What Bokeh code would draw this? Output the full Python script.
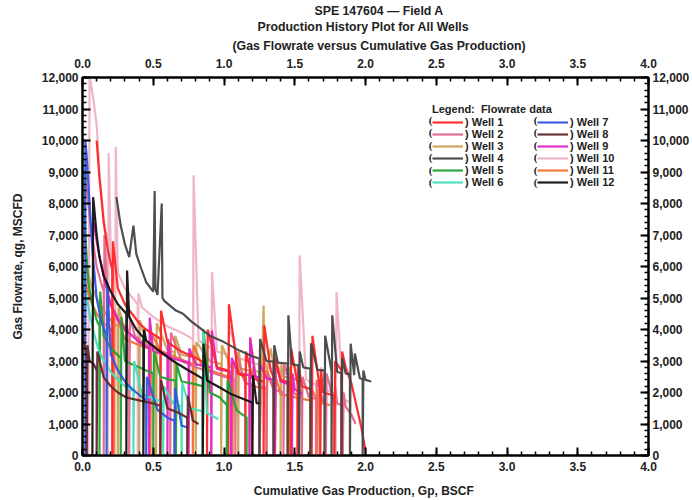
from bokeh.plotting import figure
from bokeh.models import (Range1d, LinearAxis, SingleIntervalTicker, NumeralTickFormatter, Title,
                          Legend, LegendItem, LabelSet, ColumnDataSource)
from bokeh.embed import file_html
from bokeh.resources import INLINE

FONT = "Liberation Sans"

well_names = ["Well 1", "Well 2", "Well 3", "Well 4", "Well 5", "Well 6",
              "Well 7", "Well 8", "Well 9", "Well 10", "Well 11", "Well 12"]
well_colors = ["#ff2424", "#e0668a", "#c9a257", "#444444", "#22a033", "#44dfbb",
               "#3355e0", "#62282a", "#e022c4", "#efb2c4", "#f07232", "#111111"]

# (cumulative gas BSCF, gas flowrate MSCFD) pairs
well1 = [(0.10, 10000), (0.12, 8800), (0.15, 7400), (0.18, 6500), (0.21, 5900), (0.21, 0), (0.215, 6800), (0.25, 5300),
         (0.30, 4800), (0.35, 4500), (0.40, 4200), (0.45, 4000), (0.55, 3700), (0.55, 0), (0.555, 4600), (0.60, 3600),
         (0.70, 3300), (0.80, 3100), (0.88, 2900), (0.88, 0), (0.885, 4000), (0.95, 2800), (1.03, 2700), (1.03, 0),
         (1.035, 4800), (1.10, 2600), (1.15, 2520), (1.15, 0), (1.155, 3300), (1.20, 2450), (1.28, 2350), (1.28, 0),
         (1.285, 4130), (1.33, 2700), (1.35, 2500), (1.35, 0), (1.355, 3100), (1.40, 2400), (1.47, 2300), (1.47, 0),
         (1.475, 3400), (1.52, 2250), (1.52, 0), (1.525, 2900), (1.55, 2200), (1.62, 2100), (1.62, 0), (1.625, 3800),
         (1.68, 2050), (1.68, 0), (1.685, 2700), (1.70, 2000), (1.78, 1900), (1.78, 0), (1.785, 3000), (1.83, 2700),
         (1.83, 0), (1.835, 3300), (1.86, 2800), (1.90, 2300), (1.94, 1500), (1.97, 900), (2.00, 160)]
well2 = [(0.02, 9000), (0.04, 8000), (0.06, 7200), (0.08, 6600), (0.10, 6000), (0.13, 5500), (0.15, 5200), (0.15, 0),
         (0.155, 7000), (0.18, 4900), (0.22, 4600), (0.26, 4300), (0.30, 4100), (0.33, 3950), (0.33, 0), (0.335, 4400),
         (0.37, 3800), (0.42, 3600), (0.50, 3400), (0.60, 3200), (0.62, 3150), (0.62, 0), (0.625, 3900), (0.70, 3000),
         (0.80, 2800), (0.90, 2650), (1.00, 2500), (1.08, 2400), (1.08, 0), (1.085, 3300), (1.15, 2300), (1.20, 2250),
         (1.20, 0), (1.205, 2800), (1.25, 2200), (1.30, 2150), (1.30, 0), (1.305, 2600), (1.35, 2100), (1.42, 2000),
         (1.42, 0), (1.425, 2900), (1.50, 1950), (1.55, 1900), (1.55, 0), (1.555, 2500), (1.60, 1850), (1.65, 1800),
         (1.65, 0), (1.655, 2400), (1.70, 1750), (1.72, 1700), (1.72, 0), (1.725, 2600), (1.78, 1650), (1.78, 0),
         (1.785, 2200), (1.80, 1650), (1.84, 1580), (1.84, 0), (1.845, 2000), (1.86, 1550), (1.90, 1300), (1.93, 1000)]
well3 = [(0.00, 7000), (0.03, 6000), (0.06, 5400), (0.10, 5000), (0.15, 4600), (0.20, 4300), (0.25, 4100), (0.25, 0),
         (0.255, 4700), (0.30, 3950), (0.38, 3750), (0.40, 3700), (0.40, 0), (0.405, 4300), (0.45, 3600), (0.52, 3450),
         (0.52, 0), (0.525, 4200), (0.60, 3350), (0.65, 3280), (0.65, 0), (0.655, 3800), (0.70, 3200), (0.80, 3100),
         (0.80, 0), (0.805, 3600), (0.90, 3000), (0.98, 2900), (0.98, 0), (0.985, 3500), (1.05, 2800), (1.10, 2780),
         (1.10, 0), (1.105, 3300), (1.12, 2750), (1.18, 2700), (1.18, 0), (1.185, 3700), (1.22, 2680), (1.25, 2650),
         (1.25, 0), (1.28, 4760), (1.285, 2700), (1.30, 2620), (1.33, 3400), (1.36, 2600), (1.36, 0), (1.365, 3100),
         (1.40, 2550), (1.40, 0), (1.405, 2900), (1.42, 2500), (1.46, 2480), (1.46, 0), (1.465, 2800), (1.48, 2450),
         (1.52, 2400), (1.55, 2350), (1.55, 0)]
well4 = [(0.24, 8200), (0.27, 7300), (0.30, 6700), (0.33, 6300), (0.36, 7300), (0.38, 6400), (0.41, 6000), (0.45, 5500),
         (0.50, 5200), (0.51, 8400), (0.515, 5300), (0.53, 5100), (0.56, 8000), (0.565, 5000), (0.58, 4900),
         (0.62, 4750), (0.66, 4600), (0.71, 4500), (0.77, 4250), (0.83, 4050), (0.90, 3800), (1.00, 3600), (1.11, 3330),
         (1.20, 3150), (1.25, 3080), (1.25, 0), (1.255, 3700), (1.30, 3000), (1.35, 2980), (1.35, 0), (1.355, 3500),
         (1.38, 2950), (1.45, 2920), (1.45, 0), (1.455, 4450), (1.48, 2900), (1.53, 2850), (1.53, 0), (1.535, 3300),
         (1.56, 2800), (1.61, 2760), (1.61, 0), (1.615, 3560), (1.66, 2720), (1.71, 2700), (1.71, 0), (1.715, 3800),
         (1.76, 2680), (1.76, 0), (1.765, 4450), (1.80, 2650), (1.83, 2620), (1.83, 0), (1.835, 3100), (1.86, 2600),
         (1.89, 2580), (1.89, 0), (1.895, 3550), (1.92, 2550), (1.925, 3240), (1.96, 2450), (1.98, 2420), (1.98, 0),
         (1.985, 2700), (2.00, 2400), (2.04, 2350)]
well5 = [(0.00, 10000), (0.01, 8500), (0.02, 7000), (0.04, 5500), (0.07, 4800), (0.10, 4300), (0.12, 4100), (0.12, 0),
         (0.125, 5200), (0.15, 3800), (0.20, 3400), (0.27, 3100), (0.27, 0), (0.275, 4400), (0.30, 3000), (0.35, 2900),
         (0.40, 2800), (0.45, 2700), (0.50, 2600), (0.50, 0), (0.505, 3300), (0.55, 2500), (0.62, 2400), (0.66, 2380),
         (0.66, 0), (0.665, 2900), (0.70, 2350), (0.78, 2280), (0.85, 2200), (0.85, 0), (0.855, 4000), (0.90, 2000),
         (0.97, 1840), (1.02, 1600), (1.02, 0), (1.025, 2400), (1.09, 1430), (1.13, 1300), (1.16, 1210), (1.16, 0)]
well6 = [(0.00, 6000), (0.02, 5200), (0.05, 4500), (0.08, 3900), (0.11, 3400), (0.15, 3000), (0.20, 2650), (0.25, 2400),
         (0.30, 2200), (0.36, 2050), (0.36, 0), (0.365, 3000), (0.42, 1950), (0.50, 1800), (0.57, 1700), (0.57, 0),
         (0.575, 2200), (0.64, 1650), (0.70, 1560), (0.70, 0), (0.705, 2300), (0.76, 1500), (0.85, 1400), (0.85, 0),
         (0.855, 3970), (0.88, 1350), (0.92, 1250), (0.96, 1150)]
well7 = [(0.02, 0), (0.02, 10000), (0.03, 9500), (0.05, 8000), (0.07, 6500), (0.10, 5000), (0.13, 4300), (0.17, 3800),
         (0.17, 0), (0.175, 5500), (0.20, 3200), (0.25, 2700), (0.31, 2280), (0.38, 2000), (0.45, 1750), (0.45, 0),
         (0.455, 2500), (0.53, 1450), (0.60, 1200), (0.65, 1100), (0.65, 0), (0.655, 2150), (0.70, 950), (0.75, 880)]
well8 = [(0.00, 4000), (0.01, 3600), (0.03, 3200), (0.03, 0), (0.035, 3500), (0.05, 3000), (0.08, 2900), (0.10, 2700),
         (0.10, 0), (0.105, 3300), (0.15, 2480), (0.20, 2200), (0.25, 2000), (0.31, 1840), (0.40, 1750), (0.50, 1650),
         (0.55, 1580), (0.55, 0), (0.555, 2400), (0.60, 1500), (0.69, 1330), (0.74, 1200), (0.74, 0), (0.745, 1900),
         (0.78, 1110), (0.82, 1000)]
well9 = [(0.08, 7400), (0.10, 6800), (0.13, 6100), (0.16, 5500), (0.20, 4800), (0.25, 4300), (0.30, 4000), (0.35, 3800),
         (0.40, 3600), (0.47, 3400), (0.47, 0), (0.475, 4380), (0.50, 3300), (0.55, 3250), (0.60, 3150), (0.60, 0),
         (0.605, 3700), (0.62, 3110), (0.70, 3000), (0.75, 2950), (0.75, 0), (0.755, 3400), (0.80, 2900), (0.91, 2800),
         (0.91, 0), (0.915, 3970), (0.95, 2750), (1.00, 2700), (1.05, 2650), (1.05, 0), (1.055, 3100), (1.10, 2600),
         (1.18, 2550), (1.18, 0), (1.185, 3750), (1.22, 2500), (1.25, 2480), (1.25, 0), (1.255, 2900), (1.30, 2450),
         (1.36, 2400), (1.36, 0), (1.365, 3020), (1.40, 2350), (1.44, 2290), (1.48, 2200), (1.48, 0), (1.485, 2600),
         (1.50, 2100), (1.55, 1970)]
well10 = [(0.04, 0), (0.05, 12000), (0.06, 11800), (0.08, 11200), (0.10, 10500), (0.12, 9000), (0.15, 7500),
          (0.18, 6600), (0.18, 0), (0.185, 9600), (0.20, 6400), (0.23, 6000), (0.23, 0), (0.235, 9800), (0.25, 5800),
          (0.30, 5300), (0.39, 4800), (0.39, 0), (0.395, 5140), (0.42, 4700), (0.50, 4400), (0.60, 4100), (0.70, 3900),
          (0.78, 3700), (0.78, 0), (0.785, 8900), (0.82, 3650), (0.91, 3400), (0.91, 0), (0.915, 5820), (0.95, 3300),
          (1.03, 3200), (1.03, 0), (1.035, 4130), (1.10, 3100), (1.20, 2950), (1.25, 2880), (1.25, 0), (1.255, 3500),
          (1.30, 2800), (1.40, 2650), (1.45, 2580), (1.45, 0), (1.455, 3300), (1.53, 2500), (1.53, 0), (1.535, 6350),
          (1.58, 2400), (1.65, 2250), (1.68, 2180), (1.68, 0), (1.685, 2800), (1.72, 2100), (1.79, 1950), (1.79, 0),
          (1.795, 5190), (1.84, 1800), (1.88, 1700)]
well11 = [(0.00, 6000), (0.02, 5500), (0.05, 5000), (0.10, 4500), (0.15, 4200), (0.20, 4000), (0.22, 3900), (0.22, 0),
          (0.225, 4600), (0.30, 3700), (0.40, 3500), (0.48, 3380), (0.48, 0), (0.485, 3900), (0.55, 3330), (0.62, 3200),
          (0.70, 3050), (0.78, 2900), (0.78, 0), (0.785, 3500), (0.85, 2800), (0.92, 2680), (1.00, 2550), (1.06, 2450),
          (1.06, 0), (1.065, 3000), (1.16, 2280), (1.25, 2150), (1.30, 2100), (1.30, 0), (1.305, 2700), (1.36, 2020),
          (1.36, 0), (1.365, 2500), (1.40, 1950), (1.45, 1900), (1.45, 0), (1.455, 2400), (1.48, 1870), (1.52, 1830),
          (1.52, 0), (1.525, 2300), (1.55, 1800), (1.61, 1750), (1.61, 0), (1.615, 2170), (1.66, 1700), (1.66, 0),
          (1.665, 2100), (1.70, 1650), (1.75, 1600)]
well12 = [(0.07, 0), (0.075, 8200), (0.08, 8000), (0.10, 7000), (0.12, 6300), (0.15, 5700), (0.20, 5200), (0.25, 4800),
          (0.31, 4500), (0.31, 0), (0.315, 5870), (0.33, 4400), (0.38, 4000), (0.43, 3750), (0.43, 0), (0.435, 4000),
          (0.45, 3650), (0.55, 3300), (0.64, 3000), (0.75, 2700), (0.85, 2440), (0.85, 0), (0.855, 3550), (0.88, 2380),
          (0.97, 2160), (1.05, 1950), (1.11, 1840), (1.20, 1680), (1.20, 0), (1.205, 2540), (1.23, 1660), (1.25, 1650)]

wells = [well1, well2, well3, well4, well5, well6, well7, well8, well9, well10, well11, well12]

title_lines = ["SPE 147604 \u2014 Field A", "Production History Plot for All Wells",
               "(Gas Flowrate versus Cumulative Gas Production)"]
title_offsets = [232, 175, 150]   # px from the frame's left edge
title_standoffs = [0, 0, 6]

W, H = 692, 500
ML, MR, MT, MB = 82, 41, 77, 45

p = figure(width=W, height=H, x_range=Range1d(0, 4), y_range=Range1d(0, 12000),
           output_backend="svg", toolbar_location=None, title=None,
           min_border_left=ML, min_border_right=MR, min_border_top=MT, min_border_bottom=MB)
p.grid.visible = False
p.outline_line_color = "black"
p.outline_line_width = 2

xt = SingleIntervalTicker(interval=0.5, num_minor_ticks=5)
yt = SingleIntervalTicker(interval=1000, num_minor_ticks=5)
xf = NumeralTickFormatter(format="0.0")
yf = NumeralTickFormatter(format="0,0")


def style(ax, tick_standoff=4, label_standoff=0):
    ax.major_tick_in = 8
    ax.major_tick_out = 0
    ax.minor_tick_in = 4
    ax.minor_tick_out = 0
    ax.major_tick_line_width = 2
    ax.minor_tick_line_width = 1.5
    ax.axis_line_width = 2
    ax.major_label_text_font = FONT
    ax.major_label_text_font_style = "bold"
    ax.major_label_text_font_size = "12px"
    ax.major_label_text_color = "#222222"
    ax.major_label_standoff = tick_standoff
    ax.axis_label_text_font = FONT
    ax.axis_label_text_font_style = "bold"
    ax.axis_label_text_font_size = "12px"
    ax.axis_label_text_color = "#222222"
    ax.axis_label_standoff = label_standoff


bx = p.xaxis[0]
bx.ticker = xt
bx.formatter = xf
bx.axis_label = "Cumulative Gas Production,  Gp, BSCF"
style(bx, 6, 10)
ly = p.yaxis[0]
ly.ticker = yt
ly.formatter = yf
ly.axis_label = "Gas Flowrate, qg, MSCFD"
style(ly, 4, 14)

top = LinearAxis(ticker=xt, formatter=xf)
style(top, 10)
p.add_layout(top, "above")
right = LinearAxis(ticker=yt, formatter=yf)
style(right, 4)
p.add_layout(right, "right")

for txt, off, so in reversed(list(zip(title_lines, title_offsets, title_standoffs))):
    p.add_layout(Title(text=txt, align="left", offset=off, standoff=so, text_font=FONT,
                       text_font_style="bold", text_font_size="12.3px", text_color="#222222"), "above")

order = [9, 2, 10, 1, 8, 0, 4, 5, 6, 7, 3, 11]
rends = [None] * 12
for i in order:
    cum = [c for c, r in wells[i]]
    rate = [r for c, r in wells[i]]
    rends[i] = p.line(cum, rate, line_color=well_colors[i], line_width=2.2, line_alpha=0.95)

LEG_X1, LEG_X2, LEG_Y, ROW = 350, 455, 267, 12.5


def make_legend(idx, x, title):
    items = [LegendItem(label=") " + well_names[i], renderers=[rends[i]]) for i in idx]
    lg = Legend(items=items, location=(x, LEG_Y), glyph_width=31, glyph_height=12, label_height=12,
                label_standoff=2, spacing=0, padding=0, margin=0, border_line_alpha=0,
                background_fill_alpha=0, label_text_font=FONT, label_text_font_style="bold",
                label_text_font_size="11px", label_text_color="#222222")
    if title:
        lg.title = title
        lg.title_text_font = FONT
        lg.title_text_font_style = "bold"
        lg.title_text_font_size = "11px"
        lg.title_text_color = "#222222"
        lg.title_standoff = 1
    return lg


p.add_layout(make_legend(range(0, 6), LEG_X1, "Legend:  Flowrate data"))
p.add_layout(make_legend(range(6, 12), LEG_X2, None))

px, py = [], []
for x in (LEG_X1, LEG_X2):
    for r in range(6):
        px.append(x - 2)
        py.append(LEG_Y + (5 - r) * ROW + ROW / 2)
paren = ColumnDataSource(dict(x=px, y=py, t=["("] * 12))
p.add_layout(LabelSet(x="x", y="y", text="t", source=paren, x_units="screen", y_units="screen",
                      text_align="center", text_baseline="middle", text_font=FONT,
                      text_font_style="bold", text_font_size="11px", text_color="#222222"))

open("out.html", "w").write(file_html(p, INLINE))
